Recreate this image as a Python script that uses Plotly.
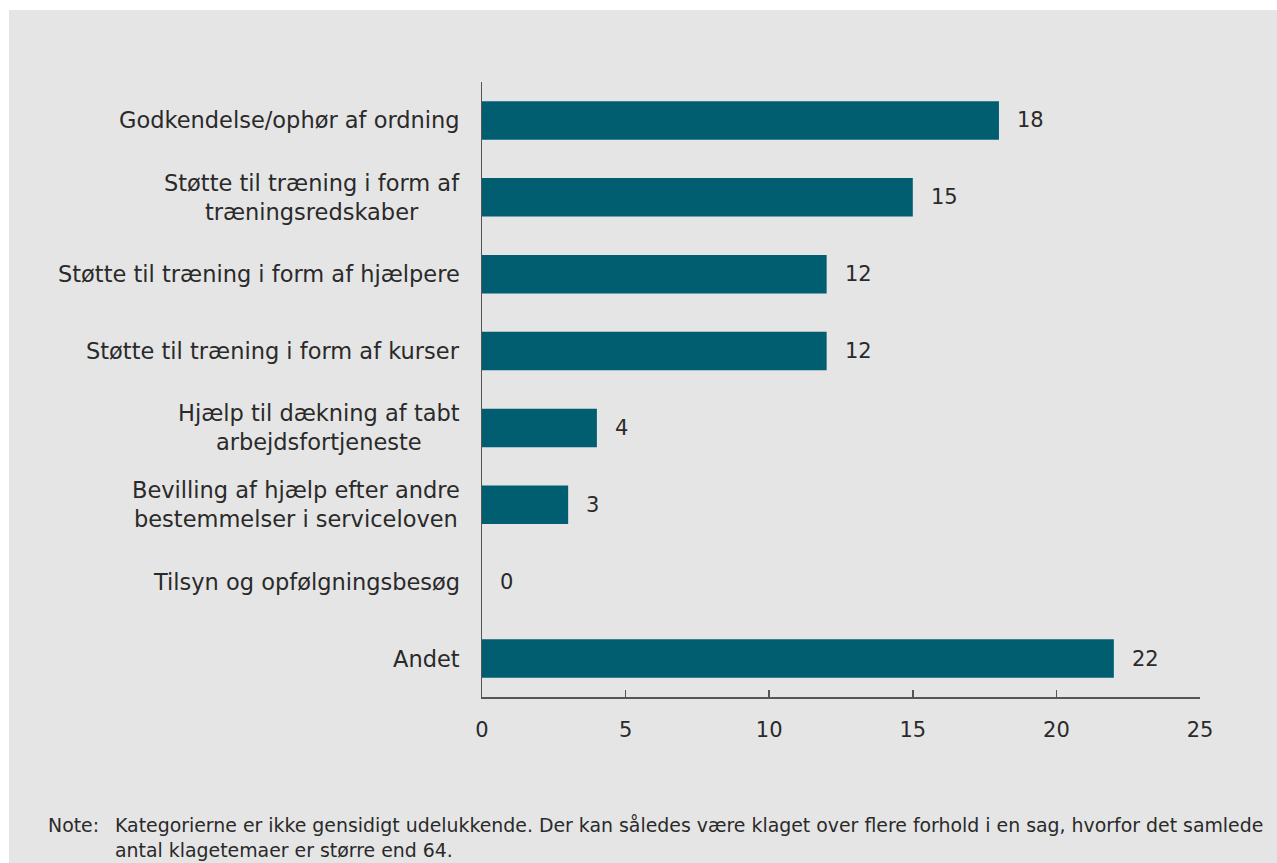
import plotly.graph_objects as go

categories = [
    "Godkendelse/ophør af ordning",
    "Støtte til træning i form af<br>træningsredskaber",
    "Støtte til træning i form af hjælpere",
    "Støtte til træning i form af kurser",
    "Hjælp til dækning af tabt<br>arbejdsfortjeneste",
    "Bevilling af hjælp efter andre<br>bestemmelser i serviceloven",
    "Tilsyn og opfølgningsbesøg",
    "Andet",
]
values = [18, 15, 12, 12, 4, 3, 0, 22]
x_ticks = [0, 5, 10, 15, 20, 25]
note_label = "Note:"
note_text = ("Kategorierne er ikke gensidigt udelukkende. Der kan således være klaget over flere forhold i en sag, hvorfor det samlede<br>"
             "antal klagetemaer er større end 64.")

W, H = 1277, 863
L, T = 482, 82
R = W - 1200
B = H - 697
pw, ph = W - L - R, H - T - B

def px_x(p):
    return (p - L) / pw

def px_y(p):
    return (H - B - p) / ph

FONT = "DejaVu Sans, Verdana, sans-serif"
TXT = "#2a2a2a"
BG = "#e5e5e5"
AX = "#555555"

fig = go.Figure()
fig.add_trace(go.Bar(
    y=categories, x=values, orientation="h",
    marker=dict(color="#005e70", line=dict(width=0)),
    width=0.5, hoverinfo="skip",
))

annotations = []
for c, v in zip(categories, values):
    annotations.append(dict(x=v, y=c, xref="x", yref="y", text=str(v), showarrow=False,
                            xanchor="left", yanchor="middle", xshift=16,
                            font=dict(family=FONT, size=21, color=TXT)))
    annotations.append(dict(x=0, y=c, xref="paper", yref="y", text=c, showarrow=False,
                            xanchor="right", yanchor="middle", xshift=-20, align="center",
                            font=dict(family=FONT, size=22.5, color=TXT)))

annotations.append(dict(x=px_x(46), y=px_y(825), xref="paper", yref="paper", text=note_label,
                        showarrow=False, xanchor="left", yanchor="middle",
                        font=dict(family=FONT, size=18.9, color=TXT)))
annotations.append(dict(x=px_x(113), y=px_y(812), xref="paper", yref="paper", text=note_text,
                        showarrow=False, xanchor="left", yanchor="top", align="left",
                        font=dict(family=FONT, size=18.9, color=TXT)))

shapes = [
    dict(type="rect", xref="paper", yref="paper", x0=px_x(0), x1=px_x(1277), y0=px_y(10), y1=px_y(0),
         fillcolor="white", line=dict(width=0), layer="below"),
    dict(type="rect", xref="paper", yref="paper", x0=px_x(0), x1=px_x(9), y0=px_y(863), y1=px_y(0),
         fillcolor="white", line=dict(width=0), layer="below"),
]

fig.update_layout(
    width=W, height=H,
    margin=dict(l=L, r=R, t=T, b=B, pad=0),
    paper_bgcolor=BG, plot_bgcolor=BG,
    showlegend=False,
    annotations=annotations,
    shapes=shapes,
    font=dict(family=FONT, size=21, color=TXT),
    xaxis=dict(range=[0, 25], tickvals=x_ticks, ticks="inside", ticklen=7, tickcolor=AX,
               tickwidth=1.5, showline=True, linecolor=AX, linewidth=1.5, showgrid=False,
               zeroline=False, ticklabelstandoff=13,
               tickfont=dict(family=FONT, size=21, color=TXT), fixedrange=True),
    yaxis=dict(categoryorder="array", categoryarray=categories, autorange="reversed",
               range=[7.5, -0.5], showticklabels=False, ticks="", showline=True,
               linecolor=AX, linewidth=1.5, showgrid=False, zeroline=False, fixedrange=True),
)

fig.write_html("out.html",
               config={"displayModeBar": False, "staticPlot": True},
               post_script=("document.body.style.margin='0';"
                            "document.body.style.overflow='hidden';"
                            "document.documentElement.style.overflow='hidden';"
                            "document.body.style.background='#e5e5e5';"))
